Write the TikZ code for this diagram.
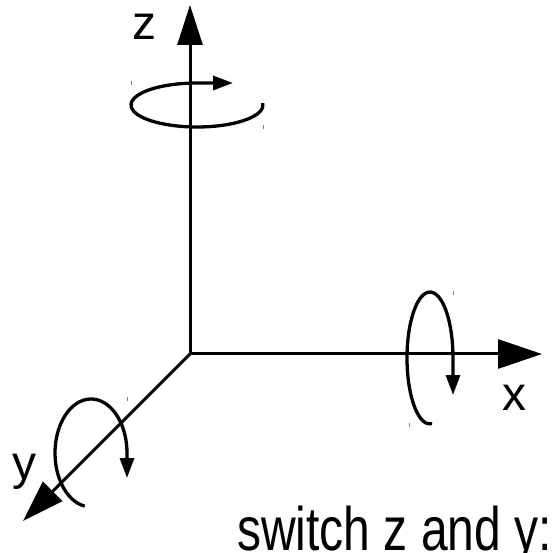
\documentclass[tikz,border=0pt]{standalone}
\usepackage{fontspec}
\setmainfont{Liberation Sans}
\usetikzlibrary{arrows.meta}
\begin{document}
\begin{tikzpicture}[x=1pt,y=1pt,
  axis/.style={line width=3pt},
  rot/.style={line width=3.3pt,-{Triangle[length=20pt,width=14pt]}},
  lbl/.style={inner sep=0pt,anchor=base west,font=\fontsize{48}{56}\selectfont},
  tick/.style={draw=gray,line width=1pt}]
\useasboundingbox (0,0) rectangle (554,552);
% axes
\coordinate (O) at (190,198);
\coordinate (zt) at (190,547);
\coordinate (xt) at (542,198);
\coordinate (yt) at (23,31);
\draw[axis,-{Triangle[length=40pt,width=25pt]}] (O) -- (zt);
\draw[axis,-{Triangle[length=44pt,width=29pt]}] (O) -- (xt);
\draw[axis,-{Triangle[length=42pt,width=27pt]}] (O) -- (yt);
% labels
\node[lbl] (lz) at (132,512) {z};
\node[lbl] (lx) at (502,142) {x};
\node[lbl] (ly) at (12,73) {y};
\node[lbl] (sw) at (237,2) {\scalebox{1}[1.28]{switch z and y:}};
% rotation arrows
\coordinate (zc) at (197,447);
\draw[rot] ([shift={(5:66 and 22)}]zc) arc[start angle=5,end angle=-270,x radius=66,y radius=22] -- ++(36,0);
\coordinate (xc) at (430,194);
\draw[rot] ([shift={(-85:23 and 66)}]xc) arc[start angle=-85,end angle=-360,x radius=23,y radius=66] -- ++(0,-37);
\coordinate (yc) at (91,99);
\draw[rot] ([shift={(-100:36 and 54)}]yc) arc[start angle=-100,end angle=-360,x radius=36,y radius=54] -- ++(0,-25);
% tiny marks
\draw[tick] (131,467) -- ++(0,4);
\draw[tick] (263,423) -- ++(0,4);
\draw[tick] (453,257) -- ++(0,4);
\draw[tick] (409,125) -- ++(0,4);
\draw[tick] (127,151) -- ++(0,4);
\end{tikzpicture}
\end{document}
